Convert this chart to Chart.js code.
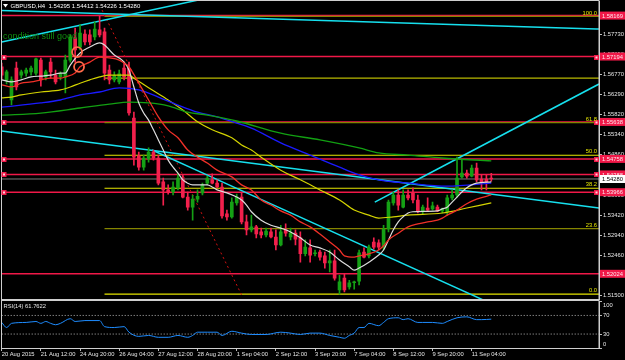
<!DOCTYPE html>
<html>
<head>
<meta charset="utf-8">
<title>GBPUSD H4</title>
<script src="https://cdn.jsdelivr.net/npm/chart.js@4.4.1/dist/chart.umd.min.js"></script>
<style>
  body { margin: 0; background: #000; overflow: hidden; }
  #wrap { position: relative; width: 625px; height: 360px; background: #000; }
  canvas { position: absolute; left: 0; }
  #main { top: 0; }
  #rsi { top: 300px; }
</style>
</head>
<body>
<div id="wrap">
  <canvas id="main" width="625" height="300"></canvas>
  <canvas id="rsi" width="625" height="60"></canvas>
</div>
<script>
// GBPUSD H4 bars, bar 0 = 20 Aug 2015, last bar = 11 Sep 20:00
var opens = [
  1.5695,1.5664,1.5616,1.5692,1.5675,1.5680,1.5683,1.5680,1.5711,1.5671,
  1.5706,1.5675,1.5671,1.5671,1.5711,1.5764,1.5742,1.5773,1.5771,1.5766,
  1.5783,1.5778,1.5687,1.5664,1.5659,1.5692,1.5692,1.5573,1.5483,1.5456,
  1.5476,1.5492,1.5478,1.5421,1.5402,1.5397,1.5407,1.5428,1.5385,1.5361,
  1.5380,1.5395,1.5418,1.5426,1.5418,1.5409,1.5345,1.5338,1.5371,1.5385,
  1.5326,1.5307,1.5314,1.5302,1.5295,1.5302,1.5290,1.5271,1.5307,1.5290,
  1.5299,1.5288,1.5250,1.5264,1.5250,1.5254,1.5245,1.5228,1.5233,1.5164,
  1.5192,1.5171,1.5181,1.5185,1.5254,1.5245,1.5278,1.5276,1.5266,1.5309,
  1.5371,1.5390,1.5361,1.5390,1.5395,1.5378,1.5350,1.5359,1.5357,1.5361,
  1.5352,1.5350,1.5383,1.5390,1.5433,1.5442,1.5435,1.5454,1.5428,1.5428,
  1.54295];
var highs = [
  1.5704,1.5687,1.5671,1.5706,1.5687,1.5692,1.5697,1.5716,1.5716,1.5687,
  1.5716,1.5687,1.5683,1.5723,1.5771,1.5787,1.5795,1.5783,1.5783,1.5802,
  1.5816,1.5787,1.5699,1.5683,1.5687,1.5706,1.5706,1.5587,1.5492,1.5485,
  1.5502,1.5497,1.5485,1.5430,1.5414,1.5421,1.5440,1.5438,1.5397,1.5390,
  1.5402,1.5418,1.5435,1.5440,1.5426,1.5418,1.5354,1.5383,1.5392,1.5397,
  1.5342,1.5342,1.5318,1.5311,1.5311,1.5311,1.5307,1.5318,1.5321,1.5311,
  1.5307,1.5302,1.5283,1.5283,1.5259,1.5259,1.5254,1.5259,1.5259,1.5199,
  1.5202,1.5187,1.5185,1.5259,1.5264,1.5271,1.5288,1.5283,1.5318,1.5378,
  1.5397,1.5402,1.5402,1.5402,1.5407,1.5390,1.5366,1.5383,1.5373,1.5366,
  1.5359,1.5390,1.5402,1.5480,1.5473,1.5449,1.5461,1.5466,1.5438,1.5438,
  1.54412];
var lows = [
  1.5664,1.5654,1.5604,1.5640,1.5668,1.5673,1.5675,1.5675,1.5649,1.5664,
  1.5668,1.5654,1.5664,1.5633,1.5706,1.5706,1.5735,1.5747,1.5747,1.5759,
  1.5766,1.5664,1.5654,1.5659,1.5654,1.5664,1.5580,1.5461,1.5449,1.5449,
  1.5468,1.5473,1.5414,1.5366,1.5392,1.5390,1.5402,1.5383,1.5354,1.5330,
  1.5373,1.5390,1.5414,1.5416,1.5407,1.5335,1.5330,1.5335,1.5366,1.5321,
  1.5295,1.5302,1.5288,1.5288,1.5290,1.5288,1.5259,1.5269,1.5292,1.5283,
  1.5271,1.5230,1.5245,1.5230,1.5245,1.5235,1.5216,1.5207,1.5187,1.5154,
  1.5159,1.5166,1.5166,1.5176,1.5240,1.5240,1.5261,1.5259,1.5259,1.5302,
  1.5366,1.5354,1.5359,1.5378,1.5371,1.5347,1.5345,1.5350,1.5354,1.5350,
  1.5347,1.5342,1.5378,1.5385,1.5430,1.5430,1.5433,1.5421,1.5402,1.5402,
  1.54226];
var closes = [
  1.5675,1.5683,1.5664,1.5647,1.5683,1.5687,1.5692,1.5714,1.5664,1.5683,
  1.5683,1.5659,1.5678,1.5711,1.5766,1.5735,1.5775,1.5754,1.5754,1.5785,
  1.5771,1.5680,1.5664,1.5675,1.5678,1.5671,1.5585,1.5480,1.5456,1.5478,
  1.5492,1.5478,1.5418,1.5402,1.5397,1.5409,1.5430,1.5385,1.5361,1.5380,
  1.5387,1.5414,1.5430,1.5418,1.5409,1.5340,1.5338,1.5373,1.5385,1.5326,
  1.5307,1.5314,1.5297,1.5295,1.5304,1.5290,1.5271,1.5302,1.5299,1.5299,
  1.5285,1.5250,1.5266,1.5247,1.5252,1.5242,1.5228,1.5233,1.5192,1.5183,
  1.5164,1.5181,1.5183,1.5252,1.5242,1.5266,1.5266,1.5266,1.5309,1.5373,
  1.5390,1.5366,1.5390,1.5383,1.5378,1.5350,1.5361,1.5354,1.5364,1.5352,
  1.5357,1.5383,1.5390,1.5430,1.5442,1.5435,1.5454,1.5426,1.5421,1.5421,
  1.54280];

// time axis
var timeTickBars = [0, 8, 16, 24, 32, 40, 48, 56, 64, 72, 80, 88, 96];
var timeLabels = ['20 Aug 2015', '21 Aug 12:00', '24 Aug 20:00', '26 Aug 04:00', '27 Aug 12:00',
  '28 Aug 20:00', '1 Sep 04:00', '2 Sep 12:00', '3 Sep 20:00', '7 Sep 04:00',
  '8 Sep 12:00', '9 Sep 20:00', '11 Sep 04:00'];
var priceTicks = [1.5150, 1.5198, 1.5246, 1.5294, 1.5342, 1.5390, 1.5438, 1.5486,
  1.5534, 1.5582, 1.5629, 1.5677, 1.5725, 1.5773];

// moving averages, read at a few bars each
var whiteBars = [0,2,4,6,8,10,12,13,14,16,18,20,21,22,23,24,25,26,27,28,29,30,31,32,33,34,35,36,37,38,
  39,42,43,44,46,48,49,50,51,53,55,57,59,61,63,65,67,69,71,72,73,75,77,78,79,80,81,82,83,84,
  89,90,91,92,93,94,95,96,97,100];
var whiteVals = [1.5664,1.5659,1.5664,1.5671,1.5673,1.5675,1.5680,1.5680,1.5699,1.5728,
  1.5742,1.5752,1.5747,1.5735,1.5723,1.5716,1.5706,1.5687,1.5647,1.5609,
  1.5585,1.5568,1.5545,1.5521,1.5497,1.5473,1.5456,1.5442,1.5426,1.5418,
  1.5414,1.5414,1.5409,1.5402,1.5395,1.5385,1.5378,1.5366,1.5350,1.5330,
  1.5318,1.5311,1.5302,1.5288,1.5271,1.5264,1.5254,1.5235,1.5219,1.5211,
  1.5216,1.5230,1.5247,1.5259,1.5283,1.5307,1.5326,1.5338,1.5347,1.5350,
  1.5352,1.5357,1.5361,1.5373,1.5385,1.5397,1.5407,1.5414,1.5418,1.5421];
var redBars = [0,2,4,6,8,10,12,13,15,16,18,20,22,24,25,26,28,30,32,34,36,38,40,42,44,47,49,51,53,55,
  57,59,61,63,65,67,69,70,72,73,75,77,78,79,81,83,85,87,89,90,91,93,95,97,100];
var redVals = [1.5652,1.5647,1.5656,1.5659,1.5664,1.5668,1.5668,1.5671,1.5680,1.5695,
  1.5706,1.5718,1.5716,1.5711,1.5704,1.5695,1.5656,1.5616,1.5576,1.5545,
  1.5526,1.5497,1.5480,1.5466,1.5449,1.5433,1.5414,1.5402,1.5378,1.5366,
  1.5352,1.5342,1.5326,1.5314,1.5297,1.5278,1.5259,1.5245,1.5242,1.5245,
  1.5250,1.5259,1.5269,1.5283,1.5299,1.5314,1.5321,1.5326,1.5330,1.5335,
  1.5342,1.5354,1.5369,1.5380,1.5390];
var yellowBars = [0,2,4,8,12,14,16,18,20,22,26,27,30,34,37,40,43,47,49,51,53,57,61,65,69,72,75,77,80,83,90,95,100];
var yellowVals = [1.5621,1.5623,1.5628,1.5635,1.5640,1.5647,1.5656,1.5664,1.5671,1.5675,
  1.5675,1.5668,1.5645,1.5616,1.5592,1.5564,1.5545,1.5526,1.5509,1.5497,
  1.5480,1.5449,1.5426,1.5402,1.5378,1.5354,1.5342,1.5335,1.5338,1.5342,
  1.5347,1.5359,1.5371];
var blueBars = [0,8,12,16,20,24,28,32,36,40,44,48,51,57,63,69,73,77,83,91,100];
var blueVals = [1.5599,1.5609,1.5616,1.5628,1.5635,1.5645,1.5640,1.5623,1.5604,1.5587,
  1.5576,1.5561,1.5549,1.5514,1.5485,1.5456,1.5438,1.5426,1.5418,1.5411,1.5418];
var greenBars = [0,8,16,22,26,30,34,38,42,48,57,65,73,77,83,90,100];
var greenVals = [1.5580,1.5585,1.5597,1.5606,1.5611,1.5609,1.5602,1.5587,1.5580,1.5566,
  1.5537,1.5521,1.5502,1.5490,1.5485,1.5478,1.5471];

// objects drawn on the chart
var redLevels = [1.58169, 1.57194, 1.55638, 1.54758, 1.54388, 1.53966, 1.52024];
var lastPrice = 1.54280;
var fibNames = ['100.0', '', '61.8', '50.0', '38.2', '23.6', '0.0'];
var fibPrices = [1.5815, 1.5668, 1.5562, 1.54845, 1.5406, 1.5310, 1.5154];
var fibStartBar = 21;
var trendStartBars = [0, 0, 0, 30.7, 76.2];
var trendStartPrices = [1.5829, 1.5754, 1.5542, 1.5497, 1.5373];
var trendEndBars = [122, 41, 122, 99.7, 122];
var trendEndPrices = [1.5785, 1.5856, 1.5359, 1.5133, 1.5654];
var dottedBars = [20.5, 49];
var dottedPrices = [1.5830, 1.5152];
var circleBars = [15.4, 15.8];
var circlePrices = [1.5730, 1.5695];

// RSI(14)
var rsiBars = [0,1,2,5,7,8,9,10,11,12,14,15,17,20,21,23,25,26,28,30,32,34,36,38,39,40,42,44,45,47,
  49,51,54,57,59,61,63,65,67,69,70,71,72,73,74,75,77,78,79,81,82,83,85,86,88,90,91,93,95,97,98,100];
var rsiVals = [55,44,53,55,57,53,57,53,50,53,63,57,59,59,46,44,46,34,25,27,
  23,23,27,23,27,34,34,34,27,36,32,29,29,34,32,29,32,32,27,23,
  21,27,32,44,44,53,48,55,63,65,61,63,55,55,55,53,57,65,67,61,61,62];
var rsiLevels = [70, 30];
var rsiTicks = [100, 70, 30, 0];

var X_MAX = 122;
var BULL = '#15a015';
var BEAR = '#f2204c';
var LEVEL_RED = '#f01848';
var AXIS_TEXT = '#e6e6e6';
var FONT = '"Liberation Sans", Arial, sans-serif';

Chart.defaults.font.family = FONT;
Chart.defaults.font.size = 5.8;
Chart.defaults.color = AXIS_TEXT;

function pts(bars, vals) {
  return bars.map(function (b, i) { return { x: b, y: vals[i] }; });
}

function lineSet(data, color, width, order, dash) {
  return {
    type: 'line', data: data, borderColor: color, borderWidth: width,
    borderDash: dash || [], pointRadius: 0, fill: false, order: order,
    cubicInterpolationMode: 'monotone'
  };
}

// keep chart areas where the screenshot has them
function fixWidth(s) { s.width = 26; s.paddingTop = 0; s.paddingBottom = 0; }
function fixHeight(s) { s.height = 12; s.paddingLeft = 0; s.paddingRight = 0; }

var datasets = [];

// horizontal levels (behind everything)
redLevels.forEach(function (p) {
  datasets.push(lineSet([{ x: 0, y: p }, { x: X_MAX, y: p }], LEVEL_RED, 1.5, 8));
});
datasets.push(lineSet([{ x: 0, y: lastPrice }, { x: X_MAX, y: lastPrice }], '#7a7a7a', 1, 8));
fibPrices.forEach(function (p, i) {
  var name = fibNames[i];
  var col = (name === '100.0' || name === '61.8' || name === '23.6') ? '#858500' :
            (name === '' ? '#b8b800' : '#e6e600');
  datasets.push(lineSet([{ x: fibStartBar, y: p }, { x: X_MAX, y: p }], col, 1.2, 7));
});

// trend lines
trendStartBars.forEach(function (b, i) {
  datasets.push(lineSet([{ x: b, y: trendStartPrices[i] }, { x: trendEndBars[i], y: trendEndPrices[i] }],
    '#16e0ee', 1.5, 6));
});
datasets.push(lineSet(pts(dottedBars, dottedPrices), '#d01010', 1, 6, [2, 3]));

// candles: wicks then bodies
var candleColors = opens.map(function (o, i) { return closes[i] >= o ? BULL : BEAR; });
datasets.push({
  type: 'bar', data: opens.map(function (o, i) { return { x: i, y: [lows[i], highs[i]] }; }),
  backgroundColor: candleColors, barThickness: 1, grouped: false, order: 4
});
datasets.push({
  type: 'bar', data: opens.map(function (o, i) { return { x: i, y: [o, closes[i]] }; }),
  backgroundColor: candleColors, barThickness: 3, minBarLength: 1, grouped: false, order: 3
});

// moving averages
datasets.push(lineSet(pts(greenBars, greenVals), '#12a012', 1.3, 2));
datasets.push(lineSet(pts(blueBars, blueVals), '#1a1aff', 1.3, 2));
datasets.push(lineSet(pts(yellowBars, yellowVals), '#d4d400', 1.2, 2));
datasets.push(lineSet(pts(redBars, redVals), '#f03028', 1.3, 1));
datasets.push(lineSet(pts(whiteBars, whiteVals), '#dcdcdc', 1.2, 1));

// marked circles
datasets.push({
  type: 'line', data: pts(circleBars, circlePrices), showLine: false,
  pointStyle: 'circle', pointRadius: 5, pointBorderWidth: 1.8,
  pointBorderColor: '#ff6a4a', pointBackgroundColor: 'rgba(0,0,0,0)', order: 0
});

var mainDecor = {
  id: 'mainDecor',
  afterDatasetsDraw: function (chart) {
    var ctx = chart.ctx, a = chart.chartArea, ys = chart.scales.y;
    ctx.save();
    // frame
    ctx.strokeStyle = '#cfcfcf';
    ctx.lineWidth = 1;
    ctx.strokeRect(1.5, 0.5, a.right - 1.5, a.bottom);

    // end markers on the level lines
    redLevels.forEach(function (p, i) {
      if (i === 0 || i === redLevels.length - 1) return;
      var y = Math.round(ys.getPixelForValue(p));
      [3.5, a.right - 3].forEach(function (x) {
        ctx.fillStyle = LEVEL_RED;
        ctx.fillRect(x - 2, y - 2, 5, 5);
        ctx.fillStyle = '#ffd0da';
        ctx.fillRect(x - 0.5, y - 0.5, 2, 2);
      });
    });

    // fib level names
    ctx.font = '5.8px ' + FONT;
    ctx.textAlign = 'right';
    ctx.textBaseline = 'bottom';
    ctx.fillStyle = '#e6e600';
    fibPrices.forEach(function (p, i) {
      if (!fibNames[i]) return;
      ctx.fillText(fibNames[i], a.right - 2, ys.getPixelForValue(p) - 0.5);
    });

    // price boxes on the right scale
    ctx.textAlign = 'center';
    ctx.textBaseline = 'middle';
    redLevels.forEach(function (p) {
      var y = ys.getPixelForValue(p);
      ctx.fillStyle = LEVEL_RED;
      ctx.fillRect(a.right + 1, y - 4, 625 - a.right - 1, 8);
      ctx.fillStyle = '#ffe6ec';
      ctx.fillText(p.toFixed(5), (a.right + 626) / 2, y + 0.5);
    });
    var yl = ys.getPixelForValue(lastPrice);
    ctx.fillStyle = '#ffffff';
    ctx.fillRect(a.right + 1, yl - 4, 625 - a.right - 1, 8);
    ctx.fillStyle = '#000000';
    ctx.fillText(lastPrice.toFixed(5), (a.right + 626) / 2, yl + 0.5);

    // header
    ctx.fillStyle = '#ffffff';
    ctx.beginPath();
    ctx.moveTo(3, 4); ctx.lineTo(8, 4); ctx.lineTo(5.5, 7.5); ctx.closePath();
    ctx.fill();
    ctx.textAlign = 'left';
    ctx.font = '6px ' + FONT;
    ctx.fillText('GBPUSD,H4  1.54295 1.54412 1.54226 1.54280', 10.5, 6);

    // note on the chart
    ctx.fillStyle = '#0f8c0f';
    ctx.font = '9px ' + FONT;
    ctx.fillText('condition still good', 3, 37);
    ctx.restore();
  }
};

new Chart(document.getElementById('main'), {
  type: 'line',
  data: { datasets: datasets },
  options: {
    responsive: false,
    animation: false,
    devicePixelRatio: 1,
    layout: { autoPadding: false, padding: { left: 1.7, top: 1, right: 0, bottom: 1 } },
    plugins: { legend: { display: false }, tooltip: { enabled: false } },
    scales: {
      x: { type: 'linear', min: 0, max: X_MAX, offset: false, display: false, grid: { offset: false } },
      y: {
        type: 'linear', position: 'right', min: 1.51424, max: 1.58516, beginAtZero: false,
        afterFit: fixWidth,
        afterBuildTicks: function (s) { s.ticks = priceTicks.map(function (v) { return { value: v }; }); },
        ticks: { padding: 1, color: AXIS_TEXT, callback: function (v) { return Number(v).toFixed(5); } },
        grid: { drawOnChartArea: false, drawTicks: true, tickLength: 3, color: '#bdbdbd' },
        border: { display: true, color: '#cfcfcf' }
      }
    }
  },
  plugins: [mainDecor]
});

// RSI window
var rsiSets = [];
rsiLevels.forEach(function (v) {
  rsiSets.push(lineSet([{ x: 0, y: v }, { x: X_MAX, y: v }], '#b4b4b4', 1, 2, [1, 2]));
});
rsiSets.push(lineSet(pts(rsiBars, rsiVals), '#1e8cff', 1, 1));

var rsiDecor = {
  id: 'rsiDecor',
  afterDatasetsDraw: function (chart) {
    var ctx = chart.ctx, a = chart.chartArea, ys = chart.scales.y;
    ctx.save();
    ctx.strokeStyle = '#cfcfcf';
    ctx.lineWidth = 1;
    ctx.strokeRect(1.5, 0.5, a.right - 1.5, a.bottom);
    ctx.font = '5.8px ' + FONT;
    ctx.fillStyle = AXIS_TEXT;
    ctx.textBaseline = 'middle';
    ctx.textAlign = 'left';
    ctx.fillText('RSI(14) 61.7622', 3.5, 6);
    rsiTicks.forEach(function (v) {
      var y = Math.min(Math.max(ys.getPixelForValue(v), a.top + 4), a.bottom - 4);
      ctx.fillText(String(v), a.right + 4, y);
    });
    ctx.restore();
  }
};

new Chart(document.getElementById('rsi'), {
  type: 'line',
  data: { datasets: rsiSets },
  options: {
    responsive: false,
    animation: false,
    devicePixelRatio: 1,
    layout: { autoPadding: false, padding: { left: 1.7, top: 1.5, right: 0, bottom: 0 } },
    plugins: { legend: { display: false }, tooltip: { enabled: false } },
    scales: {
      x: {
        type: 'linear', min: 0, max: X_MAX, offset: false,
        afterFit: fixHeight,
        afterBuildTicks: function (s) { s.ticks = timeTickBars.map(function (v) { return { value: v }; }); },
        ticks: {
          align: 'start', padding: 0, autoSkip: false, maxRotation: 0, color: AXIS_TEXT,
          callback: function (v, i) { return timeLabels[i]; }
        },
        grid: { drawOnChartArea: false, drawTicks: true, tickLength: 3, color: '#bdbdbd', offset: false },
        border: { display: true, color: '#cfcfcf' }
      },
      y: {
        type: 'linear', position: 'right', min: 0, max: 100,
        afterFit: fixWidth,
        afterBuildTicks: function (s) { s.ticks = rsiTicks.map(function (v) { return { value: v }; }); },
        ticks: { display: false },
        grid: { drawOnChartArea: false, drawTicks: true, tickLength: 3, color: '#bdbdbd' },
        border: { display: true, color: '#cfcfcf' }
      }
    }
  },
  plugins: [rsiDecor]
});
</script>
</body>
</html>
